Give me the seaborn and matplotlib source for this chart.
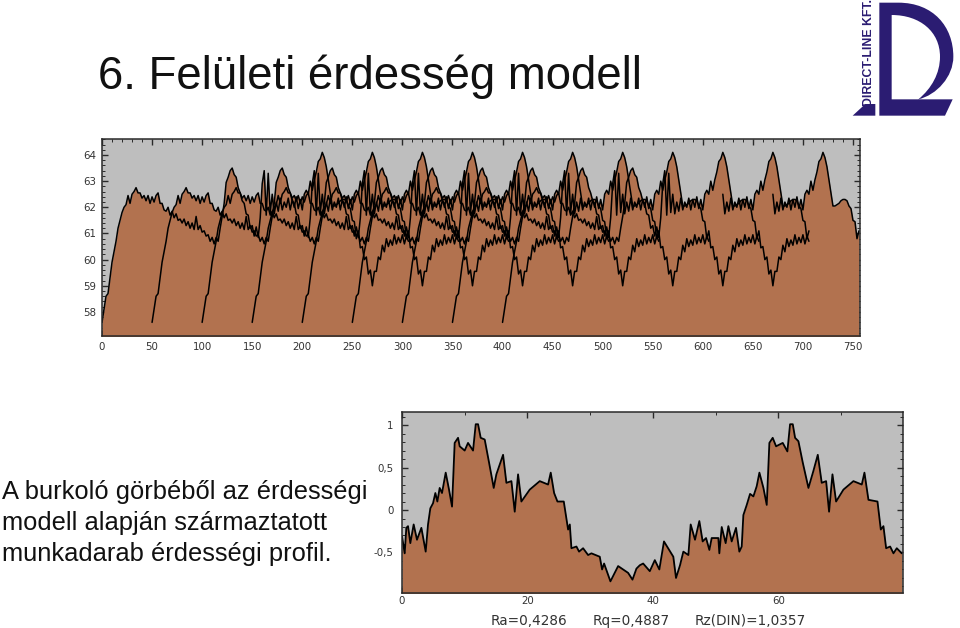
import numpy as np
import pandas as pd
import matplotlib
matplotlib.use("Agg")
import matplotlib.pyplot as plt
from matplotlib.path import Path
from matplotlib.patches import PathPatch, Polygon
from matplotlib.ticker import MultipleLocator, FixedLocator
import seaborn as sns

sns.set_theme(style="white")
plt.rcParams['font.family'] = ['Liberation Sans', 'DejaVu Sans']

TITLE = "6. Felületi érdesség modell"
CAPTION = ["A burkoló görbéből az érdességi", "modell alapján származtatott", "munkadarab érdességi profil."]
STATS = ["Ra=0,4286", "Rq=0,4887", "Rz(DIN)=1,0357"]
LOGO_TEXT = "DIRECT-LINE KFT."

# Measured tool-envelope profile, one value every 2 length units
profile_step = 2
profile = [
    57.6, 58.1, 58.6, 58.7, 59.3, 59.9, 60.3, 60.7, 61.2, 61.5,
    61.8, 62.0, 62.1, 62.45, 62.15, 62.5, 62.6, 62.75, 62.55, 62.55,
    62.35, 62.45, 62.25, 62.45, 62.15, 62.4, 62.2, 62.45, 62.55, 62.15,
    62.15, 61.9, 61.85, 62.0, 61.7, 61.85, 61.6, 61.75, 61.5, 61.55,
    61.4, 61.55, 61.3, 61.45, 61.2, 61.4, 61.15, 61.65, 61.15, 61.3,
    61.05, 61.1, 60.9, 60.95, 60.7, 60.85, 60.6, 60.85, 60.7, 61.2,
    61.65, 62.15, 62.95, 63.15, 63.4, 63.5, 63.25, 63.15, 62.75, 62.55,
    62.25, 62.15, 61.75, 61.7, 61.2, 61.3, 60.9, 61.25, 60.85, 61.6,
    62.9, 63.4, 61.7, 63.3, 61.8, 62.5, 61.75, 62.2, 61.85, 62.35,
    61.9, 62.2, 62.0, 62.35, 61.9, 62.3, 62.0, 62.4, 61.95, 62.3,
    61.9, 62.5, 62.65, 62.5, 63.0, 62.65, 63.05, 63.35, 63.75, 63.85,
    64.1, 63.9, 63.55, 63.05, 62.55, 62.05, 62.05, 62.1, 62.15, 62.25,
    62.3, 62.3, 62.25, 62.05, 61.95, 61.5, 61.45, 60.8, 61.1, 60.45,
    60.5, 60.0, 60.1, 59.45, 59.6, 59.0, 59.55, 59.55, 60.1, 60.0,
    60.55, 60.3, 60.8, 60.5, 60.75, 60.55, 60.95, 60.6, 60.85, 60.65,
    60.95, 60.6, 60.9, 60.7,
]
full_starts = [0, 50, 100, 150, 200, 250, 300, 350, 400]
partial_starts = [450, 500]      # only their late part emerges above the others
partial_from = 170
partial_to = 257
x_end = 757

# Workpiece roughness profile
rough_x = [0.0, .43, .69, .96, 1.33, 1.86, 2.39, 3.09, 3.78, 4.15, 4.52, 4.95, 5.32, 5.64, 6.01, 6.38, 6.97, 7.5, 7.98,
           8.4, 8.94, 9.2, 10, 10.53, 11.33, 11.76, 12.13, 12.55, 13.19, 13.88, 14.63, 15.05, 16.12, 16.65, 17.45, 17.98,
           18.51, 19.04, 20.37, 21.97, 23.3, 23.72, 24.26, 24.79, 25.8, 26.49, 26.76, 27.02, 27.82, 28.24, 28.88, 29.68,
           30.21, 31.54, 31.91, 32.23, 33.24, 34.47, 36.06, 36.76, 37.39, 37.93, 38.46, 39.52, 40.32, 41.04, 41.78, 43.27,
           43.7, 44.34, 44.87, 45.67, 46.04, 46.73, 47.42, 47.95, 48.49, 49.02, 49.39, 50.45, 50.61, 50.99, 51.62, 52.05,
           52.58, 53.27, 53.8, 54.18, 54.44, 54.98, 55.51, 56.04, 56.57, 57, 57.64, 58.17, 58.59, 59.12, 59.66, 60.72,
           61.46, 61.89, 62.32, 62.69, 63.22, 63.91, 64.82, 65.61, 66.31, 66.94, 67.64, 68.11, 68.65, 69.23, 70.4, 71.99,
           73.33, 73.75, 74.39, 75.83, 76.36, 76.78, 77.21, 77.85, 78.38, 78.91, 79.7]
rough_y = [-.31, -.51, -.21, -.19, -.39, -.17, -.35, -.21, -.49, -.17, .02, .08, .20, .10, .26, .20, .44, .24, .04,
           .79, .85, .75, .70, .79, .70, 1.01, 1.01, .85, .83, .56, .26, .42, .65, .32, .34, -.02,
           .42, .10, .24, .34, .30, .44, .20, .10, .10, -.23, -.17, -.45, -.43, -.49, -.45, -.53,
           -.51, -.55, -.70, -.63, -.84, -.66, -.74, -.82, -.69, -.65, -.63, -.72, -.59, -.70, -.37, -.55,
           -.80, -.65, -.49, -.53, -.17, -.35, -.13, -.37, -.33, -.47, -.33, -.33, -.51, -.20, -.39, -.19,
           -.37, -.21, -.49, -.43, -.06, .06, .19, .16, .28, .44, .26, .06, .79, .85, .75, .79,
           .69, 1.01, 1.01, .85, .81, .56, .26, .46, .65, .32, .34, -.02, .42, .10, .24, .34,
           .30, .44, .12, .10, -.23, -.19, -.45, -.43, -.51, -.45, -.51]

W, H = 960, 628
BROWN = "#B2724F"
GRAY = "#BEBEBE"
INK = "#2a2a2a"
NAVY = "#2B1C72"


def panel(fig, left, right, top, bottom):
    return fig.add_axes([left / W, 1 - bottom / H, (right - left) / W, (bottom - top) / H])


def style(ax):
    ax.set_facecolor(GRAY)
    ax.set_xlabel("")
    ax.set_ylabel("")
    ax.tick_params(which="both", direction="in", top=True, right=True, color=INK,
                   labelcolor="#333333", bottom=True, left=True)
    ax.tick_params(which="major", length=4, width=1, pad=4)
    ax.tick_params(which="minor", length=2, width=0.7)
    for s in ax.spines.values():
        s.set_color(INK)
        s.set_linewidth(1.1)
    for lab in ax.get_xticklabels() + ax.get_yticklabels():
        lab.set_family("DejaVu Sans")
        lab.set_fontsize(7.4)


fig = plt.figure(figsize=(W / 100, H / 100), dpi=100, facecolor="white")

# ---- upper chart
rows = []
for s in full_starts + partial_starts:
    t = np.arange(len(profile)) * profile_step
    d = pd.DataFrame({"x": t + s, "y": profile, "t": t, "curve": s})
    if s in partial_starts:
        d = d[(d.t >= partial_from) & (d.t <= partial_to)]
    rows.append(d)
curves = pd.concat(rows)
curves = curves[curves.x <= x_end]
envelope = curves.groupby("x").y.max().reset_index()

ax1 = panel(fig, 102, 860, 138.5, 336)
ax1.fill_between(envelope.x, 57.0, envelope.y, color=BROWN, lw=0)
sns.lineplot(data=curves, x="x", y="y", units="curve", estimator=None, color="black",
             lw=1.1, ax=ax1, legend=False)
ax1.set_xlim(0, x_end)
ax1.set_ylim(57.08, 64.63)
ax1.xaxis.set_major_locator(MultipleLocator(50))
ax1.xaxis.set_minor_locator(MultipleLocator(10))
ax1.yaxis.set_major_locator(MultipleLocator(1))
ax1.yaxis.set_minor_locator(MultipleLocator(0.2))
style(ax1)

# ---- lower chart
rough = pd.DataFrame({"x": rough_x, "y": rough_y})
ax2 = panel(fig, 402, 903, 412, 593)
ax2.fill_between(rough.x, -1.2, rough.y, color=BROWN, lw=0)
sns.lineplot(data=rough, x="x", y="y", estimator=None, color="black", lw=1.3, ax=ax2, legend=False)
ax2.set_xlim(0, 79.9)
ax2.set_ylim(-0.977, 1.154)
ax2.xaxis.set_major_locator(MultipleLocator(20))
ax2.xaxis.set_minor_locator(MultipleLocator(10))
ax2.yaxis.set_major_locator(FixedLocator([-0.5, 0, 0.5, 1]))
ax2.yaxis.set_minor_locator(MultipleLocator(0.1))
ax2.set_yticklabels(["-0,5", "0", "0,5", "1"])
style(ax2)
ax2.tick_params(axis="y", which="major", pad=6)
ax2.tick_params(axis="x", which="major", pad=2)

# ---- page overlay: text and logo
page = fig.add_axes([0, 0, 1, 1], zorder=5)
page.set_xlim(0, W)
page.set_ylim(H, 0)
page.axis("off")
page.patch.set_alpha(0)

page.text(98, 89, TITLE, fontsize=32.8, color="#111111", va="baseline", ha="left")
for txt, y in zip(CAPTION, [499, 530, 561]):
    page.text(2, y, txt, fontsize=18.4, color="#111111", va="baseline", ha="left")
for txt, x in zip(STATS, [491, 593, 695]):
    page.text(x, 625, txt, fontsize=9.8, family="DejaVu Sans", color="#333333", va="baseline", ha="left")

# logo (page decoration, px coordinates)
def px(zx, zy):
    return 840 + zx / 3, zy / 3

verts = [px(118, 8), px(175, 8),
         px(280, 8), px(340, 80), px(340, 170),
         px(340, 230), px(290, 285), px(235, 298),
         px(275, 265), px(300, 220), px(300, 170),
         px(300, 95), px(240, 45), px(155, 45),
         px(155, 298), px(338, 298), px(315, 347), px(118, 347), px(118, 8)]
codes = [Path.MOVETO, Path.LINETO,
         Path.CURVE4, Path.CURVE4, Path.CURVE4,
         Path.CURVE4, Path.CURVE4, Path.CURVE4,
         Path.CURVE4, Path.CURVE4, Path.CURVE4,
         Path.CURVE4, Path.CURVE4, Path.CURVE4,
         Path.LINETO, Path.LINETO, Path.LINETO, Path.LINETO, Path.CLOSEPOLY]
page.add_patch(PathPatch(Path(verts, codes), fc=NAVY, ec="none"))
page.add_patch(Polygon([px(38, 347), px(76, 312), px(106, 312), px(106, 347)], closed=True, fc=NAVY, ec="none"))
page.text(869, 52, LOGO_TEXT, rotation=90, fontsize=8.8, fontweight="bold", color=NAVY,
          ha="center", va="center")

fig.savefig("out.png", dpi=100)
